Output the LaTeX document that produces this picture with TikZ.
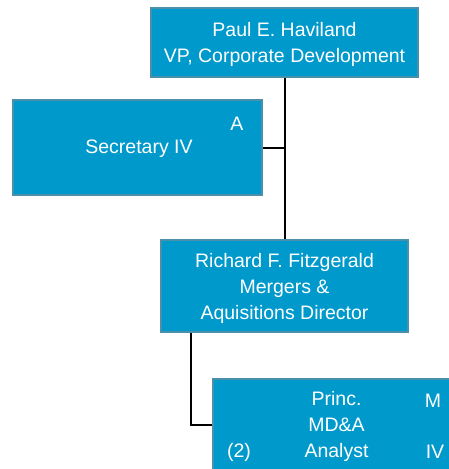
\documentclass[tikz,border=0pt]{standalone}
\usepackage{fontspec}
\setmainfont{Liberation Sans}
\usepackage{tikz}
\definecolor{boxfill}{RGB}{0,153,204}
\definecolor{boxline}{RGB}{75,143,170}
\tikzstyle{post}=[rectangle,draw=boxline,line width=1.5pt,fill=boxfill,text=white,align=center,font=\fontsize{19.5}{26}\selectfont,inner sep=0pt]
\tikzstyle{tag}=[text=white,font=\fontsize{19.5}{26}\selectfont,inner sep=0pt]
\tikzstyle{link}=[line width=2pt,black]

\begin{document}
\begin{tikzpicture}[x=1pt,y=1pt]
          \clip (0,0) rectangle (449,-469);
          \node[post,minimum width=267pt,minimum height=69pt] (vp) at (284.5,-42.5) {};
          \node[tag,align=center] (vpt) at (284.5,-44.5) {Paul E. Haviland\\VP, Corporate Development};
          \node[post,minimum width=249pt,minimum height=95pt] (sec) at (137.5,-147.5) {};
          \node[tag] (seca) at (237,-124) {A};
          \node[tag] (sect) at (139,-149) {Secretary IV};
          \node[post,minimum width=247pt,minimum height=92pt] (mad) at (284.5,-286) {};
          \node[tag,align=center] (madt) at (284.5,-288) {Richard F. Fitzgerald\\Mergers \&\\Aquisitions Director};
          \node[post,minimum width=247pt,minimum height=92pt] (anl) at (336.5,-425) {};
          \node[tag,align=center] (anlt) at (336.5,-426) {Princ.\\MD\&A\\Analyst};
          \node[tag] (anlm) at (433,-401) {M};
          \node[tag] (anln) at (239,-452) {(2)};
          \node[tag] (anlg) at (435,-452) {IV};
          \coordinate (drop) at ([xshift=31pt]mad.south west);
          \draw[link] (vp.south) -- (mad.north);
          \draw[link] (sec.east) -- (sec.east -| vp.south);
          \draw[link] (drop) |- (anl.west);
        \end{tikzpicture}
\end{document}
